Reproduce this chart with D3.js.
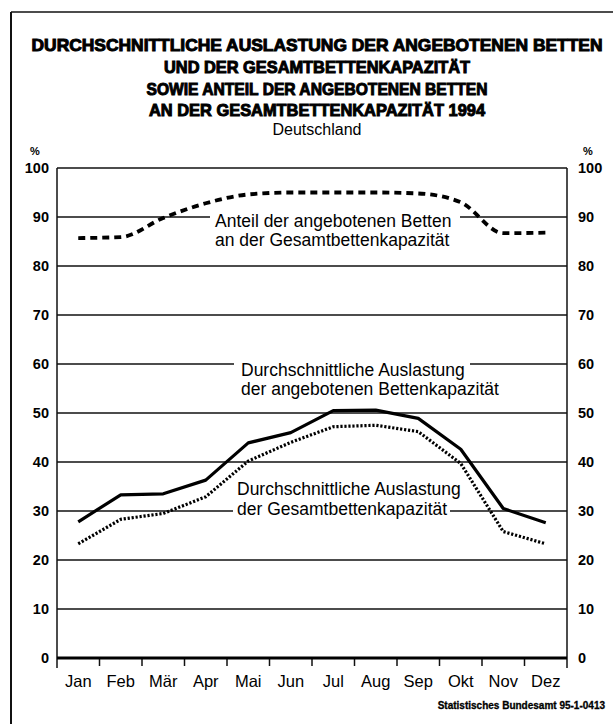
<!DOCTYPE html>
<html>
<head>
<meta charset="utf-8">
<script src="https://cdn.jsdelivr.net/npm/d3@7"></script>
<style>
  html, body { margin: 0; padding: 0; background: #fff; }
  svg { display: block; }
</style>
</head>
<body>
<svg id="chart" width="613" height="724"></svg>
<script>
// Monate 1994
const months = ["Jan", "Feb", "Mär", "Apr", "Mai", "Jun", "Jul", "Aug", "Sep", "Okt", "Nov", "Dez"];

// Anteil der angebotenen Betten an der Gesamtbettenkapazität (%)
const anteilAngeboten = [85.7, 85.9, 89.8, 92.8, 94.6, 95.0, 95.0, 95.0, 94.8, 93.0, 86.7, 86.8];

// Durchschnittliche Auslastung der angebotenen Bettenkapazität (%)
const auslastungAngeboten = [27.8, 33.3, 33.5, 36.3, 43.9, 46.0, 50.5, 50.6, 48.9, 42.6, 30.5, 27.6];

// Durchschnittliche Auslastung der Gesamtbettenkapazität (%)
const auslastungGesamt = [23.3, 28.3, 29.5, 32.9, 40.2, 44.0, 47.2, 47.5, 46.2, 39.7, 25.8, 23.3];

const yTicks = [0, 10, 20, 30, 40, 50, 60, 70, 80, 90, 100];

const titleLines = [
  "DURCHSCHNITTLICHE AUSLASTUNG DER ANGEBOTENEN BETTEN",
  "UND DER GESAMTBETTENKAPAZITÄT",
  "SOWIE ANTEIL DER ANGEBOTENEN BETTEN",
  "AN DER GESAMTBETTENKAPAZITÄT 1994"
];

const svg = d3.select("#chart");
const font = "'Liberation Sans', Arial, Helvetica, sans-serif";

const plot = { left: 57, right: 567, top: 168, bottom: 658 };

const x = d3.scaleBand().domain(months).range([plot.left, plot.right]).padding(0);
const y = d3.scaleLinear().domain([0, 100]).range([plot.bottom, plot.top]);
const cx = m => x(m) + x.bandwidth() / 2;

// Rahmen (nur oben und links sichtbar)
svg.append("line").attr("x1", 11).attr("x2", 613).attr("y1", 12).attr("y2", 12)
  .attr("stroke", "#111").attr("stroke-width", 1.4);
svg.append("line").attr("x1", 11).attr("x2", 11).attr("y1", 12).attr("y2", 724)
  .attr("stroke", "#111").attr("stroke-width", 2);

// Titel
const titleWidths = [571, 306, 341, 336];
const titleY = [51, 73, 95, 116];
titleLines.forEach((t, i) => {
  svg.append("text")
    .attr("x", 317).attr("y", titleY[i])
    .attr("text-anchor", "middle")
    .attr("font-family", font).attr("font-weight", "bold").attr("font-size", 17)
    .attr("textLength", titleWidths[i]).attr("lengthAdjust", "spacingAndGlyphs")
    .attr("stroke", "#000").attr("stroke-width", 1).attr("paint-order", "stroke")
    .attr("fill", "#000")
    .text(t);
});
svg.append("text")
  .attr("x", 317).attr("y", 135)
  .attr("text-anchor", "middle")
  .attr("font-family", font).attr("font-size", 16).attr("fill", "#000")
  .text("Deutschland");

// Prozentzeichen
[30, 583].forEach(px => {
  svg.append("text").attr("x", px).attr("y", 155)
    .attr("font-family", font).attr("font-weight", "bold").attr("font-size", 11)
    .text("%");
});

// Gitterlinien
const grid = svg.append("g");
yTicks.filter(v => v > 0 && v < 100).forEach(v => {
  grid.append("line")
    .attr("x1", plot.left).attr("x2", plot.right)
    .attr("y1", y(v)).attr("y2", y(v))
    .attr("stroke", "#111").attr("stroke-width", 1.5);
});

// Rahmen des Diagramms
svg.append("line").attr("x1", plot.left).attr("x2", plot.right).attr("y1", y(100)).attr("y2", y(100))
  .attr("stroke", "#111").attr("stroke-width", 1.5);
svg.append("line").attr("x1", plot.left).attr("x2", plot.left).attr("y1", y(100)).attr("y2", y(0) + 10)
  .attr("stroke", "#111").attr("stroke-width", 1.5);
svg.append("line").attr("x1", plot.right).attr("x2", plot.right).attr("y1", y(100)).attr("y2", y(0) + 10)
  .attr("stroke", "#111").attr("stroke-width", 1.5);

// y-Achsen links und rechts
const yLeft = d3.axisLeft(y).tickValues(yTicks).tickSize(0).tickPadding(8);
const yRight = d3.axisRight(y).tickValues(yTicks).tickSize(0).tickPadding(11);
[[yLeft, plot.left], [yRight, plot.right]].forEach(([ax, pos]) => {
  const g = svg.append("g").attr("transform", `translate(${pos},0)`).call(ax);
  g.select(".domain").remove();
  g.selectAll("text")
    .attr("font-family", font).attr("font-weight", "bold").attr("font-size", 14.5)
    .attr("fill", "#000");
});

// x-Achse mit Monatsgrenzen als Striche
const xAxis = d3.axisBottom(x).tickSize(0).tickPadding(17);
const gx = svg.append("g").attr("transform", `translate(0,${y(0)})`).call(xAxis);
gx.select(".domain").remove();
gx.selectAll("text").attr("font-family", font).attr("font-size", 16.5).attr("fill", "#000");
months.slice(1).forEach(m => {
  svg.append("line").attr("x1", x(m)).attr("x2", x(m)).attr("y1", y(0)).attr("y2", y(0) + 8)
    .attr("stroke", "#111").attr("stroke-width", 1.5);
});
svg.append("line").attr("x1", plot.left).attr("x2", plot.right).attr("y1", y(0)).attr("y2", y(0))
  .attr("stroke", "#000").attr("stroke-width", 3);

// Beschriftungen der Kurven (mit weißem Hintergrund über den Gitterlinien)
function label(lines, lx, ly, lh, bx, bw) {
  const g = svg.append("g");
  g.append("rect").attr("x", bx).attr("y", ly - 15).attr("width", bw).attr("height", lh * lines.length + 4)
    .attr("fill", "#fff");
  lines.forEach((t, i) => {
    g.append("text").attr("x", lx).attr("y", ly + i * lh)
      .attr("font-family", font).attr("font-size", 17.5).attr("fill", "#000")
      .text(t);
  });
}
label(["Anteil der angebotenen Betten", "an der Gesamtbettenkapazität"], 215, 227, 18.5, 210, 250);
label(["Durchschnittliche Auslastung", "der angebotenen Bettenkapazität"], 241, 376, 19, 234, 236);
label(["Durchschnittliche Auslastung", "der Gesamtbettenkapazität"], 237, 495, 20, 233, 217);

// Kurven
const lineLin = d3.line().x((d, i) => cx(months[i])).y(d => y(d));
const lineSmooth = d3.line().x((d, i) => cx(months[i])).y(d => y(d)).curve(d3.curveMonotoneX);

svg.append("path").datum(anteilAngeboten).attr("d", lineSmooth)
  .attr("fill", "none").attr("stroke", "#000").attr("stroke-width", 3.8)
  .attr("stroke-dasharray", "7,5");

svg.append("path").datum(auslastungGesamt).attr("d", lineLin)
  .attr("fill", "none").attr("stroke", "#000").attr("stroke-width", 3.2)
  .attr("stroke-dasharray", "2.2,1.8");

svg.append("path").datum(auslastungAngeboten).attr("d", lineLin)
  .attr("fill", "none").attr("stroke", "#000").attr("stroke-width", 3.2)
  .attr("stroke-linejoin", "round");

// Quelle
svg.append("text").attr("x", 605).attr("y", 709).attr("text-anchor", "end")
  .attr("font-family", font).attr("font-weight", "bold").attr("font-size", 10)
  .attr("stroke", "#000").attr("stroke-width", 0.3)
  .text("Statistisches Bundesamt 95-1-0413");
</script>
</body>
</html>
